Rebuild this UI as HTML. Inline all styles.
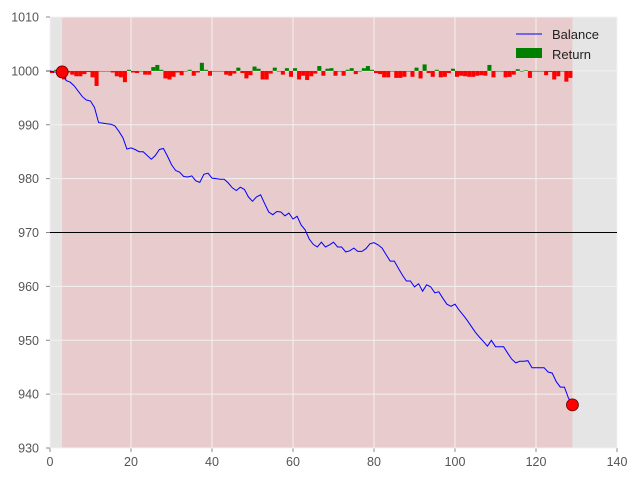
<!DOCTYPE html>
<html><head><meta charset="utf-8"><style>
html,body{margin:0;padding:0;background:#fff;}
svg{display:block;font-family:"Liberation Sans",sans-serif;}
</style></head><body>
<svg id="chart" width="640" height="480"></svg>
<script>
const balance=[1000,999.8,999.8,999.8,998.2,997.9,997.2,996.2,995.2,994.6,994.4,993.2,990.4,990.3,990.2,990.1,989.8,988.8,987.6,985.5,985.7,985.4,985.0,985.0,984.3,983.6,984.3,985.4,985.6,984.2,982.6,981.5,981.2,980.4,980.3,980.5,979.6,979.3,980.8,981.0,980.1,980.0,979.9,979.9,979.2,978.3,977.8,978.4,978.0,976.6,975.8,976.6,977.0,975.4,973.8,973.3,973.9,973.8,973.1,973.6,972.5,973.0,971.4,970.5,968.8,967.8,967.3,968.2,967.3,967.7,968.2,967.3,967.3,966.4,966.6,967.1,966.5,966.5,967.0,967.9,968.1,967.7,967.1,965.9,964.7,964.7,963.4,962.1,961.0,961.0,959.9,960.5,959.1,960.3,959.9,958.8,959.0,957.8,956.7,956.3,956.7,955.6,954.7,953.7,952.6,951.5,950.6,949.8,948.9,950.0,948.8,948.8,948.8,947.6,946.5,945.8,946.1,946.1,946.2,944.9,944.9,944.9,944.9,944.1,943.9,942.3,941.3,941.3,939.3,938.0];
const returns=[0,-0.4,0.2,0,-1.6,-0.3,-0.7,-1.0,-1.0,-0.6,-0.2,-1.2,-2.8,-0.1,-0.1,-0.1,-0.3,-1.0,-1.2,-2.1,0.2,-0.3,-0.4,0,-0.7,-0.7,0.7,1.1,0.2,-1.4,-1.6,-1.1,-0.3,-0.8,-0.1,0.2,-0.9,-0.3,1.5,0.2,-0.9,-0.1,-0.1,0,-0.7,-0.9,-0.5,0.6,-0.4,-1.4,-0.8,0.8,0.4,-1.6,-1.6,-0.5,0.6,-0.1,-0.7,0.5,-1.1,0.5,-1.6,-0.9,-1.7,-1.0,-0.5,0.9,-0.9,0.4,0.5,-0.9,0,-0.9,0.2,0.5,-0.6,0,0.5,0.9,0.2,-0.4,-0.6,-1.2,-1.2,0,-1.3,-1.3,-1.1,0,-1.1,0.6,-1.4,1.2,-0.4,-1.1,0.2,-1.2,-1.1,-0.4,0.4,-1.1,-0.9,-1.0,-1.1,-1.1,-0.9,-0.8,-0.9,1.1,-1.2,0,0,-1.2,-1.1,-0.7,0.3,0,0.1,-1.3,0,0,0,-0.8,-0.2,-1.6,-1.0,0,-2.0,-1.3];
const xTicks=[0,20,40,60,80,100,120,140];
const yTicks=[930,940,950,960,970,980,990,1000,1010];
const spanStart=3, spanEnd=129;
const startPoint=[3,999.8], endPoint=[129,938.0];
const refLevel=970, baseLevel=1000;

const L=50,R=617,T=17,B=448;
const X=v=>L+(v-0)/(140-0)*(R-L);
const Y=v=>B-(v-930)/(1010-930)*(B-T);
const NS='http://www.w3.org/2000/svg';
const svg=document.getElementById('chart');
function mk(tag,attrs,parent){const e=document.createElementNS(NS,tag);for(const k in attrs)e.setAttribute(k,attrs[k]);(parent||svg).appendChild(e);return e;}

let bg=mk('rect',{x:L,y:T,width:R-L,height:B-T,fill:'#e5e5e5'});


let sp=mk('rect',{x:X(spanStart),y:T,width:X(spanEnd)-X(spanStart),height:B-T,fill:'#e8cbcc'});



xTicks.forEach(t=>{
  let g=mk('line',{x1:X(t),x2:X(t),y1:T,y2:B,stroke:'#f4f0f0','stroke-width':1});
  
  
  mk('line',{x1:X(t),x2:X(t),y1:B,y2:B+4,stroke:'#888'});
  let tx=mk('text',{x:X(t),y:B+18,'text-anchor':'middle','font-size':12.5,fill:'#555'});
  tx.textContent=t;
  
  
});
yTicks.forEach(t=>{
  let g=mk('line',{x1:L,x2:R,y1:Y(t),y2:Y(t),stroke:'#f4f0f0','stroke-width':1});
  
  
  mk('line',{x1:L-4,x2:L,y1:Y(t),y2:Y(t),stroke:'#888'});
  let tx=mk('text',{x:L-11,y:Y(t)+4.5,'text-anchor':'end','font-size':12.5,fill:'#555'});
  tx.textContent=t;
  
  
});

returns.forEach((r,i)=>{
  const x0=X(i-1),x1=X(i);
  const y0=Y(baseLevel),y1=Y(baseLevel+r);
  let b=mk('rect',{x:x0,y:Math.min(y0,y1),width:x1-x0,height:Math.max(Math.abs(y1-y0),0.6),fill:r>=0?'#008000':'#ff0000'});
  
  
});

let ref=mk('line',{x1:L,x2:R,y1:Y(refLevel),y2:Y(refLevel),stroke:'#000','stroke-width':1});



let pts=balance.map((v,i)=>X(i).toFixed(1)+','+Y(v).toFixed(1)).join(' ');
let pl=mk('polyline',{points:pts,fill:'none',stroke:'#0000ff','stroke-width':1});



[startPoint,endPoint].forEach((p,k)=>{
  let c=mk('circle',{cx:X(p[0]),cy:Y(p[1]),r:6,fill:'#ff0000',stroke:'#600','stroke-width':0.8});
  
  
});

let lg=mk('g',{});


let l1=mk('line',{x1:516,x2:542,y1:34,y2:34,stroke:'#0000ff','stroke-width':1},lg);


let t1=mk('text',{x:552,y:39,'font-size':13,fill:'#222'},lg);t1.textContent='Balance';


let r2=mk('rect',{x:516,y:48,width:26,height:10,fill:'#008000'},lg);


let t2=mk('text',{x:552,y:59,'font-size':13,fill:'#222'},lg);t2.textContent='Return';


</script>
</body></html>
